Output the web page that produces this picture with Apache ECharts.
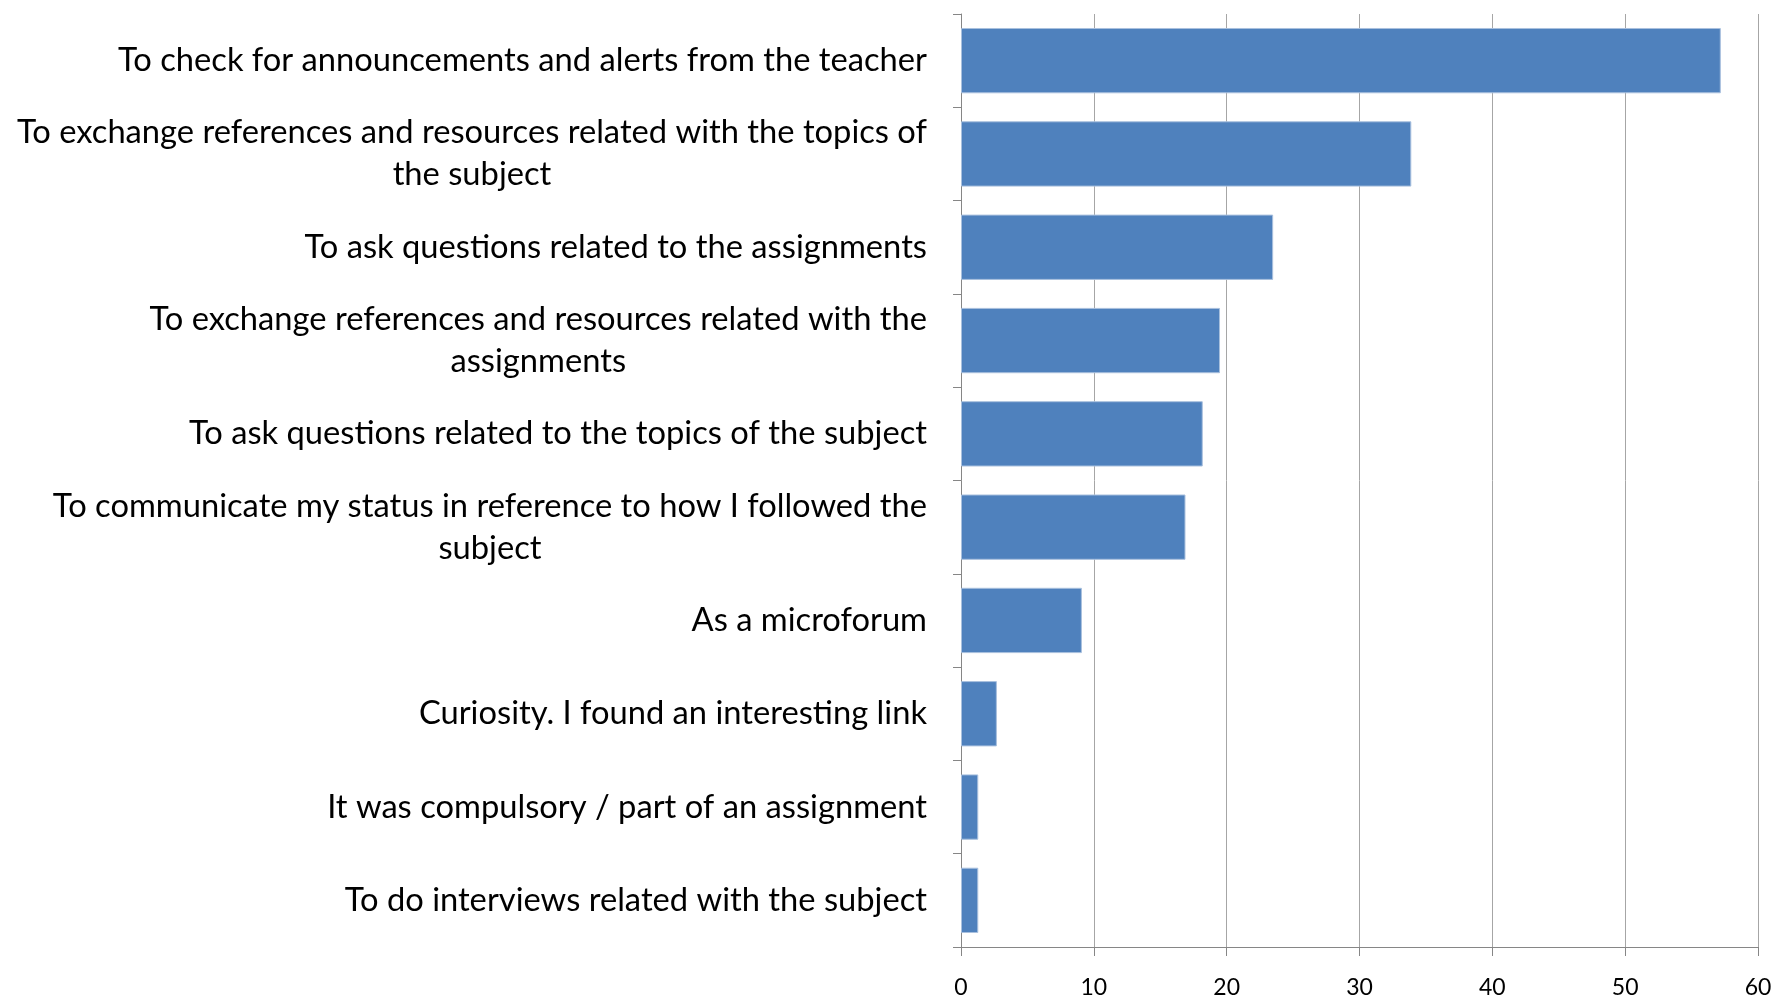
<!DOCTYPE html>
<html>
<head>
<meta charset="utf-8">
<script src="https://cdn.jsdelivr.net/npm/echarts@6/dist/echarts.min.js"></script>
<style>
  html, body { margin: 0; padding: 0; background: #fff; }
  #main { width: 1785px; height: 999px; }
</style>
</head>
<body>
<div id="main"></div>
<script>
  // reasons, top to bottom
  var categories = [
    'To check for announcements and alerts from the teacher',
    'To exchange references and resources related with the topics of\nthe subject',
    'To ask questions related to the assignments',
    'To exchange references and resources related with the\nassignments',
    'To ask questions related to the topics of the subject',
    'To communicate my status in reference to how I followed the\nsubject',
    'As a microforum',
    'Curiosity. I found an interesting link',
    'It was compulsory / part of an assignment',
    'To do interviews related with the subject'
  ];
  var values = [57.2, 33.9, 23.5, 19.5, 18.2, 16.9, 9.1, 2.7, 1.3, 1.3];
  var xTicks = [0, 10, 20, 30, 40, 50, 60];

  var labelFont = 'Lato';
  var chart = echarts.init(document.getElementById('main'));
  chart.setOption({
    animation: false,
    grid: { left: 961, right: 27, top: 14, bottom: 52 },
    xAxis: {
      type: 'value',
      min: xTicks[0],
      max: xTicks[xTicks.length - 1],
      interval: 10,
      axisLine: { show: true, lineStyle: { color: '#868686', width: 1 } },
      axisTick: { show: true, length: 9, lineStyle: { color: '#868686' } },
      splitLine: { show: true, lineStyle: { color: '#a6a6a6', width: 1 } },
      axisLabel: { fontFamily: labelFont, fontSize: 23, color: '#000', margin: 29 }
    },
    yAxis: {
      type: 'category',
      inverse: true,
      data: categories,
      axisLine: { show: true, lineStyle: { color: '#868686', width: 1 } },
      axisTick: { show: true, length: 8, lineStyle: { color: '#868686' } },
      axisLabel: {
        margin: 34,
        formatter: function (v) {
          return v.split('\n').map(function (l) { return '{c|' + l + '}'; }).join('\n');
        },
        rich: {
          c: { align: 'center', fontFamily: labelFont, fontSize: 32.7, color: '#000', lineHeight: 42 }
        }
      }
    },
    series: [{
      type: 'bar',
      data: values,
      barCategoryGap: '30%',
      itemStyle: { color: '#4f81bd', borderColor: '#a9c0de', borderWidth: 1 }
    }]
  });
</script>
</body>
</html>
